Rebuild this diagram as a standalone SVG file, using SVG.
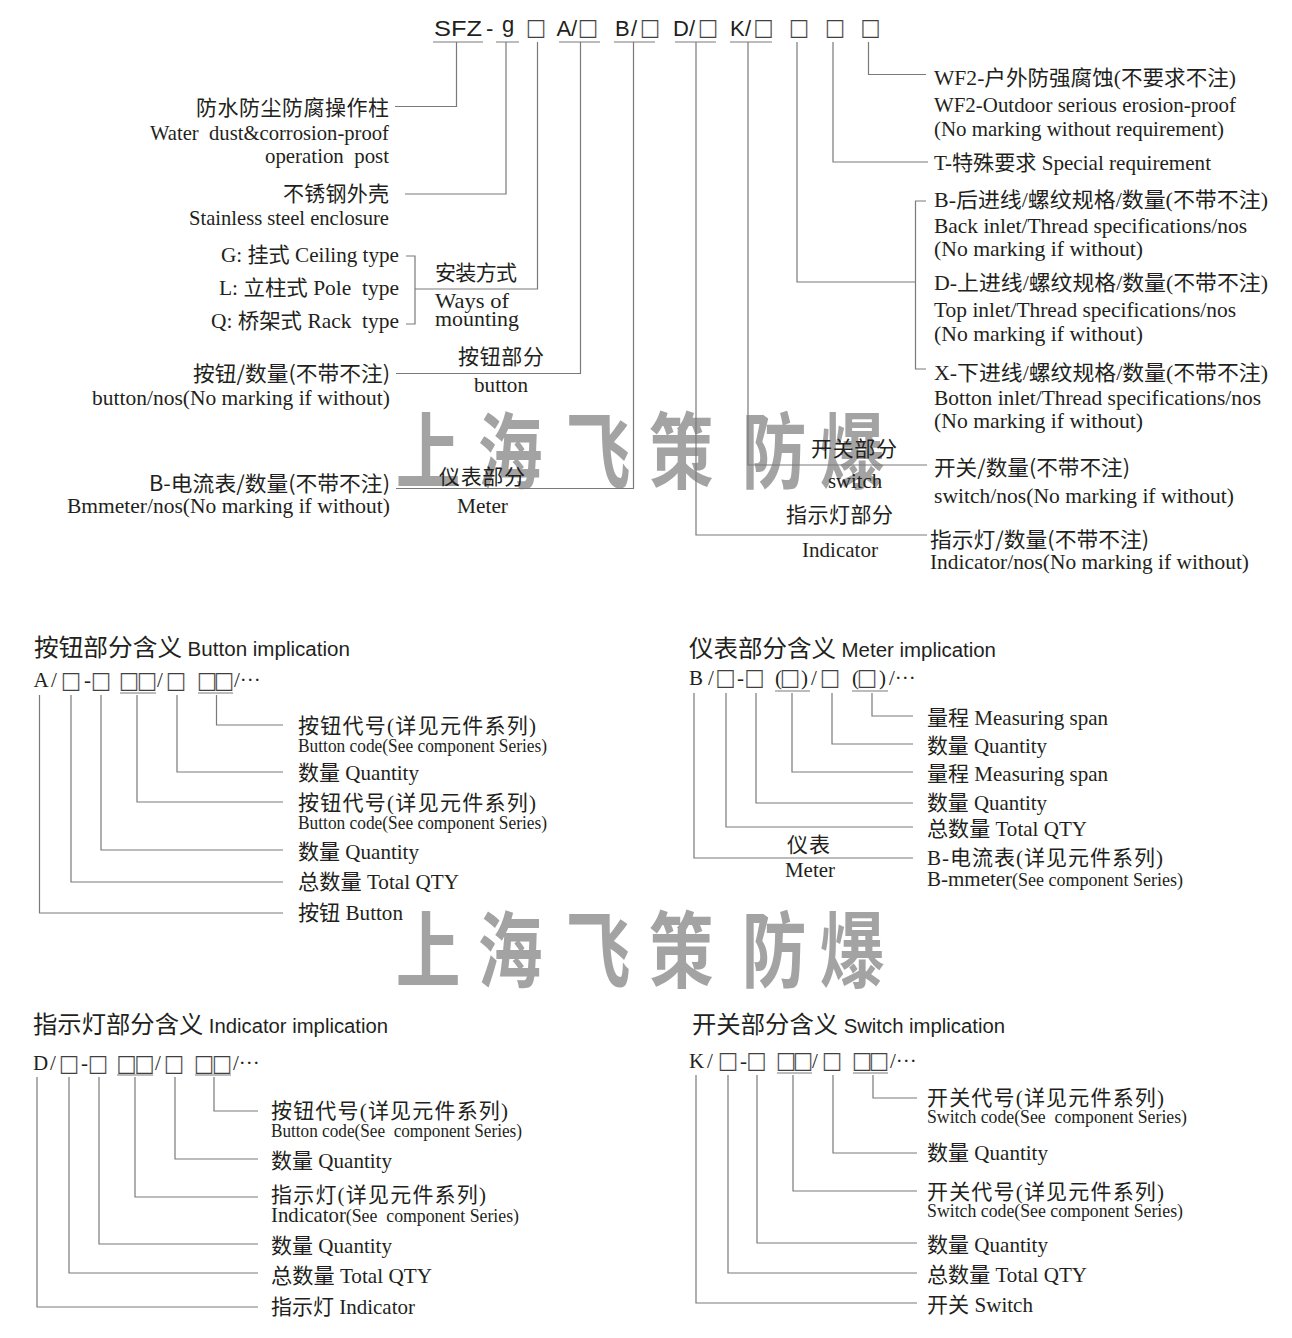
<svg xmlns="http://www.w3.org/2000/svg" width="1292" height="1338" viewBox="0 0 1292 1338">
<style>
text{fill:#231f20}
.cn{font-family:"Noto Sans CJK SC",sans-serif;font-size:21px}
.sr{font-family:"Liberation Serif","Noto Sans CJK SC",serif;font-size:21px}
.sm{font-size:18px}
.sa{font-family:"Liberation Sans","Noto Sans CJK SC",sans-serif;font-size:22px}
.tt{font-family:"Noto Sans CJK SC",sans-serif;font-size:24px}
.te{font-family:"Liberation Sans",sans-serif;font-size:20px}
.bx{font-family:"Noto Sans CJK SC",sans-serif;font-size:20px;fill:#3a3a3a;stroke:#3a3a3a;stroke-width:0.3}
.ln{stroke:#7a7a7a;stroke-width:1.2;fill:none}
.wm{font-family:"Noto Sans CJK SC",sans-serif;font-weight:700;font-size:83px;fill:#a3a3a3}
</style>
<rect width="1292" height="1338" fill="#ffffff"/>
<g id="watermark" text-anchor="middle">
<text class="wm" transform="translate(428,482) scale(0.78,1)">上</text>
<text class="wm" transform="translate(510,482) scale(0.78,1)">海</text>
<text class="wm" transform="translate(598,482) scale(0.78,1)">飞</text>
<text class="wm" transform="translate(681,482) scale(0.78,1)">策</text>
<text class="wm" transform="translate(774,482) scale(0.78,1)">防</text>
<text class="wm" transform="translate(852,482) scale(0.78,1)">爆</text>
<text class="wm" transform="translate(428,981) scale(0.78,1)">上</text>
<text class="wm" transform="translate(510,981) scale(0.78,1)">海</text>
<text class="wm" transform="translate(598,981) scale(0.78,1)">飞</text>
<text class="wm" transform="translate(681,981) scale(0.78,1)">策</text>
<text class="wm" transform="translate(774,981) scale(0.78,1)">防</text>
<text class="wm" transform="translate(852,981) scale(0.78,1)">爆</text>
</g>
<g id="connectors">
<path class="ln" d="M456.5,42V106.5H395"/>
<path class="ln" d="M506,42V194H405"/>
<path class="ln" d="M537.5,42V289H415"/>
<path class="ln" d="M406,256H415V324H406"/>
<path class="ln" d="M580.5,42V373.5H396"/>
<path class="ln" d="M633.5,42V488.5H396"/>
<path class="ln" d="M696,42V535H927"/>
<path class="ln" d="M748,42V465H927"/>
<path class="ln" d="M797,42V282H915.5"/>
<path class="ln" d="M926,201H915.5V369H926"/>
<path class="ln" d="M833,42V162H928"/>
<path class="ln" d="M868.5,42V74.5H926"/>
<path class="ln" d="M216.5,695V725H283M177,695V772H283M137,695V802H283M101,695V850H283M71,695V882H283M39.5,695V913H283"/>
<path class="ln" d="M872,693V716H913M832,693V744H913M792,693V772H913M756,693V803H913M726,693V827H913M694,693V858H913"/>
<path class="ln" d="M214,1077V1111H258M175,1077V1159H258M135,1077V1197H258M99,1077V1244H258M69,1077V1273H258M37,1077V1307H258"/>
<path class="ln" d="M873,1075V1098H917M833,1075V1153H917M793,1075V1191H917M757,1075V1243H917M728,1075V1273H917M696,1075V1303H917"/>
</g>
<g id="header">
<text class="sa"><tspan x="434" y="36" textLength="48" lengthAdjust="spacingAndGlyphs">SFZ</tspan><tspan x="486" y="36">-</tspan><tspan x="502" y="31.5">g</tspan><tspan class="bx" x="526" y="37">□</tspan><tspan x="556.5" y="36">A</tspan><tspan x="571" y="36">/</tspan><tspan class="bx" x="578" y="37">□</tspan><tspan x="615" y="36">B</tspan><tspan x="631" y="36">/</tspan><tspan class="bx" x="640" y="37">□</tspan><tspan x="673" y="36">D</tspan><tspan x="689" y="36">/</tspan><tspan class="bx" x="698" y="37">□</tspan><tspan x="730" y="36">K</tspan><tspan x="745" y="36">/</tspan><tspan class="bx" x="753.5" y="37">□</tspan><tspan class="bx" x="789" y="37">□</tspan><tspan class="bx" x="825" y="37">□</tspan><tspan class="bx" x="860.5" y="37">□</tspan></text>
<path class="ln" d="M433,42H483M496,42H519M559,42H600M614,42H655M675,42H716M730,42H772"/>
</g>
<g id="n-post">
<text class="cn" x="196" y="115" textLength="193" lengthAdjust="spacing">防水防尘防腐操作柱</text>
<text class="sr" x="150" y="140" textLength="239" lengthAdjust="spacingAndGlyphs" xml:space="preserve">Water  dust&amp;corrosion-proof</text>
<text class="sr" x="265" y="163" textLength="124" lengthAdjust="spacingAndGlyphs" xml:space="preserve">operation  post</text>
</g>
<g id="n-enclosure">
<text class="cn" x="283" y="201" textLength="106" lengthAdjust="spacing">不锈钢外壳</text>
<text class="sr" x="189" y="225" textLength="200" lengthAdjust="spacingAndGlyphs">Stainless steel enclosure</text>
</g>
<g id="n-mounting">
<text class="sr" x="221" y="262" textLength="178" lengthAdjust="spacingAndGlyphs">G: 挂式 Ceiling type</text>
<text class="sr" x="219" y="295" textLength="180" lengthAdjust="spacingAndGlyphs" xml:space="preserve">L: 立柱式 Pole  type</text>
<text class="sr" x="211" y="328" textLength="188" lengthAdjust="spacingAndGlyphs" xml:space="preserve">Q: 桥架式 Rack  type</text>
<text class="cn" x="435" y="280" textLength="82" lengthAdjust="spacing">安装方式</text>
<text class="sr" x="435" y="308" textLength="74" lengthAdjust="spacingAndGlyphs">Ways of</text>
<text class="sr" x="435" y="326" textLength="84" lengthAdjust="spacingAndGlyphs">mounting</text>
</g>
<g id="n-button">
<text class="cn" x="193" y="381" textLength="197" lengthAdjust="spacingAndGlyphs">按钮/数量(不带不注)</text>
<text class="sr" x="92" y="405" textLength="298" lengthAdjust="spacingAndGlyphs">button/nos(No marking if without)</text>
<text class="cn" x="458" y="364" textLength="86" lengthAdjust="spacing">按钮部分</text>
<text class="sr" x="474" y="392" textLength="54" lengthAdjust="spacingAndGlyphs">button</text>
</g>
<g id="n-meter">
<text class="cn" x="149" y="491" textLength="241" lengthAdjust="spacingAndGlyphs">B-电流表/数量(不带不注)</text>
<text class="sr" x="67" y="513" textLength="323" lengthAdjust="spacingAndGlyphs">Bmmeter/nos(No marking if without)</text>
<text class="cn" x="439" y="484" textLength="86" lengthAdjust="spacing">仪表部分</text>
<text class="sr" x="457" y="513" textLength="51" lengthAdjust="spacingAndGlyphs">Meter</text>
</g>
<g id="n-wf2">
<text class="sr" x="934" y="85" textLength="302" lengthAdjust="spacingAndGlyphs">WF2-户外防强腐蚀(不要求不注)</text>
<text class="sr" x="934" y="112" textLength="302" lengthAdjust="spacingAndGlyphs">WF2-Outdoor serious erosion-proof</text>
<text class="sr" x="934" y="136" textLength="290" lengthAdjust="spacingAndGlyphs">(No marking without requirement)</text>
</g>
<g id="n-special">
<text class="sr" x="934" y="170" textLength="277" lengthAdjust="spacingAndGlyphs">T-特殊要求 Special requirement</text>
</g>
<g id="n-inlet">
<text class="sr" x="934" y="207" textLength="334" lengthAdjust="spacingAndGlyphs">B-后进线/螺纹规格/数量(不带不注)</text>
<text class="sr" x="934" y="233" textLength="313" lengthAdjust="spacingAndGlyphs">Back inlet/Thread specifications/nos</text>
<text class="sr" x="934" y="256" textLength="209" lengthAdjust="spacingAndGlyphs">(No marking if without)</text>
<text class="sr" x="934" y="290" textLength="334" lengthAdjust="spacingAndGlyphs">D-上进线/螺纹规格/数量(不带不注)</text>
<text class="sr" x="934" y="317" textLength="302" lengthAdjust="spacingAndGlyphs">Top inlet/Thread specifications/nos</text>
<text class="sr" x="934" y="341" textLength="209" lengthAdjust="spacingAndGlyphs">(No marking if without)</text>
<text class="sr" x="934" y="380" textLength="334" lengthAdjust="spacingAndGlyphs">X-下进线/螺纹规格/数量(不带不注)</text>
<text class="sr" x="934" y="405" textLength="327" lengthAdjust="spacingAndGlyphs">Botton inlet/Thread specifications/nos</text>
<text class="sr" x="934" y="428" textLength="209" lengthAdjust="spacingAndGlyphs">(No marking if without)</text>
</g>
<g id="n-switch">
<text class="cn" x="811" y="456" textLength="86" lengthAdjust="spacing">开关部分</text>
<text class="sr" x="828" y="488" textLength="54" lengthAdjust="spacingAndGlyphs">switch</text>
<text class="cn" x="934" y="475" textLength="196" lengthAdjust="spacingAndGlyphs">开关/数量(不带不注)</text>
<text class="sr" x="934" y="503" textLength="300" lengthAdjust="spacingAndGlyphs">switch/nos(No marking if without)</text>
</g>
<g id="n-indicator">
<text class="cn" x="786" y="522" textLength="107" lengthAdjust="spacing">指示灯部分</text>
<text class="sr" x="802" y="557" textLength="76" lengthAdjust="spacingAndGlyphs">Indicator</text>
<text class="cn" x="930" y="547" textLength="219" lengthAdjust="spacingAndGlyphs">指示灯/数量(不带不注)</text>
<text class="sr" x="930" y="569" textLength="319" lengthAdjust="spacingAndGlyphs">Indicator/nos(No marking if without)</text>
</g>
<g id="sec-button">
<text x="34" y="656" textLength="316" lengthAdjust="spacingAndGlyphs"><tspan class="tt">按钮部分含义 </tspan><tspan class="te">Button implication</tspan></text>
<text class="sr"><tspan x="33.5" y="687">A</tspan><tspan x="51" y="687">/</tspan><tspan class="bx" x="61" y="690">□</tspan><tspan x="84" y="687">-</tspan><tspan class="bx" x="91" y="690">□</tspan><tspan class="bx" x="119" y="690">□</tspan><tspan class="bx" x="137" y="690">□</tspan><tspan x="157" y="687">/</tspan><tspan class="bx" x="166" y="690">□</tspan><tspan class="bx" x="197" y="690">□</tspan><tspan class="bx" x="214" y="690">□</tspan><tspan x="234" y="687">/···</tspan></text>
<path class="ln" d="M120,693H156M198,693H233"/>
<text class="sr" x="298" y="733" textLength="238" lengthAdjust="spacing">按钮代号(详见元件系列)</text>
<text class="sr sm" x="298" y="752" textLength="249" lengthAdjust="spacingAndGlyphs">Button code(See component Series)</text>
<text class="sr" x="298" y="780" textLength="121" lengthAdjust="spacingAndGlyphs">数量 Quantity</text>
<text class="sr" x="298" y="810" textLength="238" lengthAdjust="spacing">按钮代号(详见元件系列)</text>
<text class="sr sm" x="298" y="829" textLength="249" lengthAdjust="spacingAndGlyphs">Button code(See component Series)</text>
<text class="sr" x="298" y="859" textLength="121" lengthAdjust="spacingAndGlyphs">数量 Quantity</text>
<text class="sr" x="298" y="889" textLength="161" lengthAdjust="spacingAndGlyphs">总数量 Total QTY</text>
<text class="sr" x="298" y="920" textLength="105" lengthAdjust="spacingAndGlyphs">按钮 Button</text>
</g>
<g id="sec-meter">
<text x="689" y="657" textLength="307" lengthAdjust="spacingAndGlyphs"><tspan class="tt">仪表部分含义 </tspan><tspan class="te">Meter implication</tspan></text>
<text class="sr"><tspan x="689" y="685">B</tspan><tspan x="708" y="685">/</tspan><tspan class="bx" x="715.5" y="687">□</tspan><tspan x="737" y="685">-</tspan><tspan class="bx" x="744.5" y="687">□</tspan><tspan x="775" y="685">(</tspan><tspan class="bx" x="780" y="687">□</tspan><tspan x="801" y="685">)</tspan><tspan x="811" y="685">/</tspan><tspan class="bx" x="820" y="687">□</tspan><tspan x="852" y="685">(</tspan><tspan class="bx" x="857" y="687">□</tspan><tspan x="879" y="685">)</tspan><tspan x="889" y="685">/···</tspan></text>
<path class="ln" d="M775,691H810M852,691H888"/>
<text class="sr" x="927" y="725" textLength="181" lengthAdjust="spacingAndGlyphs">量程 Measuring span</text>
<text class="sr" x="927" y="753" textLength="120" lengthAdjust="spacingAndGlyphs">数量 Quantity</text>
<text class="sr" x="927" y="781" textLength="181" lengthAdjust="spacingAndGlyphs">量程 Measuring span</text>
<text class="sr" x="927" y="810" textLength="120" lengthAdjust="spacingAndGlyphs">数量 Quantity</text>
<text class="sr" x="927" y="836" textLength="160" lengthAdjust="spacingAndGlyphs">总数量 Total QTY</text>
<text class="sr" x="927" y="865" textLength="236" lengthAdjust="spacing">B-电流表(详见元件系列)</text>
<text class="sr" x="927" y="886" textLength="256" lengthAdjust="spacingAndGlyphs">B-mmeter<tspan class="sm">(See component Series)</tspan></text>
<text class="cn" x="787" y="852" textLength="43" lengthAdjust="spacing">仪表</text>
<text class="sr" x="785" y="877" textLength="50" lengthAdjust="spacingAndGlyphs">Meter</text>
</g>
<g id="sec-indicator">
<text x="33" y="1033" textLength="355" lengthAdjust="spacingAndGlyphs"><tspan class="tt">指示灯部分含义 </tspan><tspan class="te">Indicator implication</tspan></text>
<text class="sr"><tspan x="33" y="1070">D</tspan><tspan x="50" y="1070">/</tspan><tspan class="bx" x="59" y="1072.5">□</tspan><tspan x="81" y="1070">-</tspan><tspan class="bx" x="88" y="1072.5">□</tspan><tspan class="bx" x="116.5" y="1072.5">□</tspan><tspan class="bx" x="134.5" y="1072.5">□</tspan><tspan x="155" y="1070">/</tspan><tspan class="bx" x="164" y="1072.5">□</tspan><tspan class="bx" x="194" y="1072.5">□</tspan><tspan class="bx" x="212" y="1072.5">□</tspan><tspan x="233" y="1070">/···</tspan></text>
<path class="ln" d="M117,1075H153M195,1075H231"/>
<text class="sr" x="271" y="1118" textLength="237" lengthAdjust="spacing">按钮代号(详见元件系列)</text>
<text class="sr sm" x="271" y="1137" textLength="251" lengthAdjust="spacingAndGlyphs" xml:space="preserve">Button code(See  component Series)</text>
<text class="sr" x="271" y="1168" textLength="121" lengthAdjust="spacingAndGlyphs">数量 Quantity</text>
<text class="sr" x="271" y="1202" textLength="215" lengthAdjust="spacing">指示灯(详见元件系列)</text>
<text class="sr" x="271" y="1222" textLength="248" lengthAdjust="spacingAndGlyphs" xml:space="preserve">Indicator<tspan class="sm">(See  component Series)</tspan></text>
<text class="sr" x="271" y="1253" textLength="121" lengthAdjust="spacingAndGlyphs">数量 Quantity</text>
<text class="sr" x="271" y="1283" textLength="161" lengthAdjust="spacingAndGlyphs">总数量 Total QTY</text>
<text class="sr" x="271" y="1314" textLength="144" lengthAdjust="spacingAndGlyphs">指示灯 Indicator</text>
</g>
<g id="sec-switch">
<text x="692" y="1033" textLength="313" lengthAdjust="spacingAndGlyphs"><tspan class="tt">开关部分含义 </tspan><tspan class="te">Switch implication</tspan></text>
<text class="sr"><tspan x="689" y="1068">K</tspan><tspan x="707" y="1068">/</tspan><tspan class="bx" x="718" y="1070">□</tspan><tspan x="740" y="1068">-</tspan><tspan class="bx" x="746.5" y="1070">□</tspan><tspan class="bx" x="776" y="1070">□</tspan><tspan class="bx" x="793" y="1070">□</tspan><tspan x="812" y="1068">/</tspan><tspan class="bx" x="822" y="1070">□</tspan><tspan class="bx" x="852" y="1070">□</tspan><tspan class="bx" x="869" y="1070">□</tspan><tspan x="890" y="1068">/···</tspan></text>
<path class="ln" d="M777,1073H812M853,1073H888"/>
<text class="sr" x="927" y="1105" textLength="237" lengthAdjust="spacing">开关代号(详见元件系列)</text>
<text class="sr sm" x="927" y="1123" textLength="260" lengthAdjust="spacingAndGlyphs" xml:space="preserve">Switch code(See  component Series)</text>
<text class="sr" x="927" y="1160" textLength="121" lengthAdjust="spacingAndGlyphs">数量 Quantity</text>
<text class="sr" x="927" y="1199" textLength="237" lengthAdjust="spacing">开关代号(详见元件系列)</text>
<text class="sr sm" x="927" y="1217" textLength="256" lengthAdjust="spacingAndGlyphs">Switch code(See component Series)</text>
<text class="sr" x="927" y="1252" textLength="121" lengthAdjust="spacingAndGlyphs">数量 Quantity</text>
<text class="sr" x="927" y="1282" textLength="160" lengthAdjust="spacingAndGlyphs">总数量 Total QTY</text>
<text class="sr" x="927" y="1312" textLength="106" lengthAdjust="spacingAndGlyphs">开关 Switch</text>
</g>
</svg>
